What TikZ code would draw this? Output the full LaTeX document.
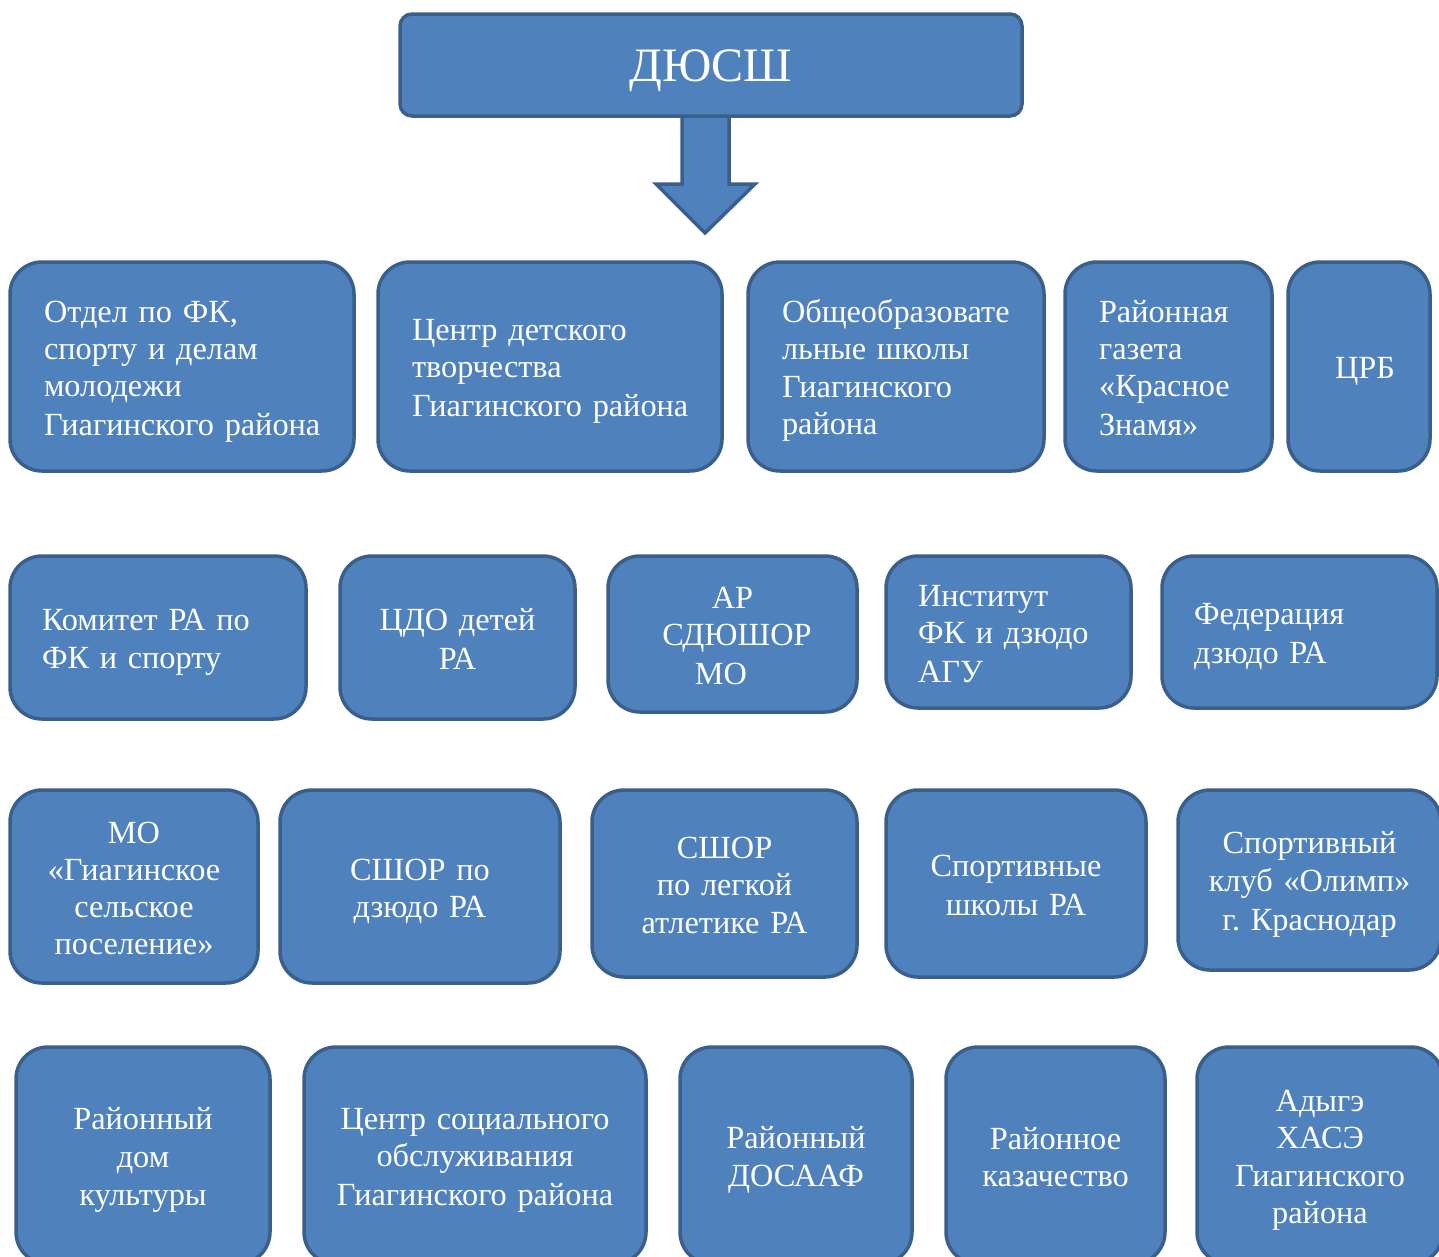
\documentclass[tikz,border=0pt]{standalone}
\usepackage{fontspec}
\setmainfont{Liberation Serif}
\definecolor{boxfill}{HTML}{4F81BD}
\definecolor{boxline}{HTML}{3A5F8B}
\newcommand{\boxfont}{\fontsize{32.3}{37.3}\selectfont\frenchspacing}
\newcommand{\titlefont}{\fontsize{48}{56}\selectfont}
\newcommand{\bstrut}{\rule[-6.2pt]{0pt}{37.3pt}}
\newcommand{\tstrut}{\rule[-10.6pt]{0pt}{55pt}}
\begin{document}
\begin{tikzpicture}[x=1pt,y=-1pt,
  box/.style={draw=boxline, fill=boxfill, line width=3.5pt, rounded corners=32pt,
    text=white, font=\boxfont, inner sep=0pt},
  lbox/.style={box, align=left, inner xsep=#1,
    execute at begin node={\bstrut}, execute at end node={\bstrut}},
  lbox/.default=34pt,
  cbox/.style={box, align=center, text width=#1, minimum width=#1,
    execute at begin node={\bstrut}, execute at end node={\bstrut}},
  titlebox/.style={box, align=center, rounded corners=12pt, font=\titlefont,
    execute at begin node={\tstrut}, execute at end node={\bstrut}},
  arrowshape/.style={draw=boxline, fill=boxfill, line width=3.5pt}]
\useasboundingbox (0,0) rectangle (1439,1256);
\clip (0,0) rectangle (1439,1256);

% arrow and title
\draw[arrowshape] (682,110) -- (682,184) -- (656,184) -- (705,233) -- (755,184) -- (729,184) -- (729,110) -- cycle;
\node[titlebox, minimum width=622pt, minimum height=102pt] (title) at (711,65) {ДЮСШ};

% row 1
\node[lbox, text width=276pt, minimum height=209pt] (a1) at (182,366.5)
  {Отдел~по~ФК,\\спорту~и~делам\\молодежи\\Гиагинского~района};
\node[lbox, text width=276pt, minimum height=209pt] (a2) at (550,366.5)
  {Центр~детского\\творчества\\Гиагинского~района};
\node[lbox, text width=228pt, minimum height=209pt] (a3) at (896,366.5)
  {Общеобразовате\\льные~школы\\Гиагинского\\района};
\node[lbox, text width=139pt, minimum height=209pt] (a4) at (1168.5,366.5)
  {Районная\\газета\\«Красное\\Знамя»};
\node[cbox=142pt, minimum height=209pt] (a5) at (1359,366.5)
  {\hspace*{12pt}ЦРБ};

% row 2
\node[lbox=32pt, text width=232pt, minimum height=163pt] (b1) at (158,637.5)
  {Комитет~РА~по\\ФК~и~спорту};
\node[cbox=235pt, minimum height=163pt] (b2) at (457.5,637.5)
  {ЦДО детей\\РА};
\node[cbox=249pt, minimum height=156pt] (b3) at (732.5,634)
  {АР\hspace*{2pt}\\\hspace*{9pt}СДЮШОР\\МО\hspace*{23pt}};
\node[lbox=32pt, text width=181pt, minimum height=152pt] (b4) at (1008.5,632)
  {Институт\\ФК~и~дзюдо\\АГУ};
\node[lbox=32pt, text width=211pt, minimum height=152pt] (b5) at (1299.5,632)
  {Федерация\\дзюдо~РА};

% row 3
\node[cbox=248pt, minimum height=193pt] (c1) at (134,886.5)
  {МО\\«Гиагинское\\сельское\\поселение»};
\node[cbox=280pt, minimum height=193pt] (c2) at (420,886.5)
  {СШОР по\\дзюдо РА};
\node[cbox=265pt, minimum height=187pt] (c3) at (724.5,883.5)
  {СШОР\\по легкой\\атлетике РА};
\node[cbox=260pt, minimum height=187pt] (c4) at (1016,883.5)
  {Спортивные\\школы РА};
\node[cbox=263pt, minimum height=180pt] (c5) at (1309.5,880)
  {Спортивный\\клуб «Олимп»\\г. Краснодар};

% row 4
\node[cbox=254pt, minimum height=217pt] (d1) at (143,1155.5)
  {Районный\\дом\\культуры};
\node[cbox=342pt, minimum height=217pt] (d2) at (475,1155.5)
  {Центр социального\\обслуживания\\Гиагинского района};
\node[cbox=232pt, minimum height=217pt] (d3) at (796,1155.5)
  {Районный\\ДОСААФ};
\node[cbox=219pt, minimum height=217pt] (d4) at (1055.5,1155.5)
  {Районное\\казачество};
\node[cbox=246pt, minimum height=217pt] (d5) at (1320,1155.5)
  {Адыгэ\\ХАСЭ\\Гиагинского\\района};
\end{tikzpicture}
\end{document}
